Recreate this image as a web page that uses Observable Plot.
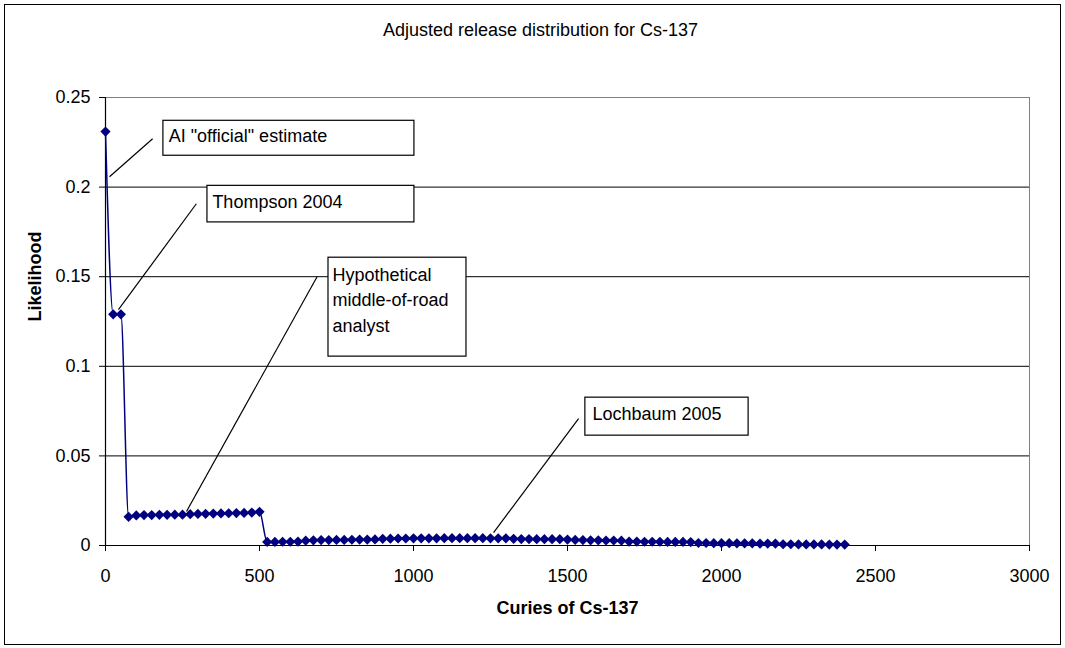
<!DOCTYPE html>
<html>
<head>
<meta charset="utf-8">
<script src="https://cdn.jsdelivr.net/npm/d3@7"></script>
<script src="https://cdn.jsdelivr.net/npm/@observablehq/plot@0.6"></script>
<style>
  html, body { margin: 0; padding: 0; background: #fff; }
  #wrap { position: relative; width: 1065px; height: 648px; overflow: hidden; }
  #border { position: absolute; left: 4px; top: 4px; width: 1055px; height: 639px; border: 1.5px solid #000; pointer-events: none; }
  svg { display: block; }
</style>
</head>
<body>
<div id="wrap"><div id="border"></div></div>
<script>
// ---- data ----
const curies = [
  0,25,50,75,100,125,150,175,200,225,
  250,275,300,325,350,375,400,425,450,475,
  500,525,550,575,600,625,650,675,700,725,
  750,775,800,825,850,875,900,925,950,975,
  1000,1025,1050,1075,1100,1125,1150,1175,1200,1225,
  1250,1275,1300,1325,1350,1375,1400,1425,1450,1475,
  1500,1525,1550,1575,1600,1625,1650,1675,1700,1725,
  1750,1775,1800,1825,1850,1875,1900,1925,1950,1975,
  2000,2025,2050,2075,2100,2125,2150,2175,2200,2225,
  2250,2275,2300,2325,2350,2375,2400
];
const likelihood = [
  0.231,0.129,0.129,0.0160,0.0168,0.0170,0.0170,0.0171,0.0171,0.0172,
  0.0172,0.0175,0.0176,0.0177,0.0178,0.0179,0.0180,0.0181,0.0182,0.0184,
  0.0188,0.0020,0.0020,0.0021,0.0021,0.0022,0.0027,0.0029,0.0030,0.0030,
  0.0031,0.0031,0.0032,0.0033,0.0033,0.0034,0.0037,0.0038,0.0039,0.0039,
  0.0040,0.0040,0.0040,0.0040,0.0041,0.0041,0.0041,0.0041,0.0041,0.0041,
  0.0040,0.0040,0.0040,0.0037,0.0036,0.0036,0.0035,0.0035,0.0035,0.0035,
  0.0033,0.0031,0.0030,0.0029,0.0029,0.0028,0.0028,0.0027,0.0022,0.0022,
  0.0021,0.0021,0.0021,0.0020,0.0020,0.0020,0.0019,0.0014,0.0014,0.0013,
  0.0013,0.0013,0.0012,0.0012,0.0012,0.0011,0.0011,0.0011,0.0007,0.0007,
  0.0006,0.0006,0.0006,0.0006,0.0005,0.0005,0.0005
];
const xTicks = [0,500,1000,1500,2000,2500,3000];
const xTickLabels = ["0","500","1000","1500","2000","2500","3000"];
const yTicks = [0,0.05,0.1,0.15,0.2,0.25];
const yTickLabels = ["0","0.05","0.1","0.15","0.2","0.25"];
const gridValues = [0.05,0.1,0.15,0.2];

const titleText = "Adjusted release distribution for Cs-137";
const xLabel = "Curies of Cs-137";
const yLabel = "Likelihood";

// callout annotations (data coordinates)
const calloutLabels = ["AI \"official\" estimate", "Thompson 2004", "Hypothetical\nmiddle-of-road\nanalyst", "Lochbaum 2005"];
const boxX1 = [188, 331, 724, 1558];
const boxX2 = [1003, 1003, 1172, 2088];
const boxY1 = [0.2370, 0.2007, 0.1606, 0.0825];
const boxY2 = [0.2175, 0.1803, 0.1054, 0.0613];
const textX = [205, 347, 737, 1581];
const textY = [0.2295, 0.1929, 0.1380, 0.0747];
const leadX1 = [153, 295, 687, 1536];
const leadY1 = [0.2270, 0.1907, 0.1500, 0.0708];
const leadX2 = [13, 42, 263, 1260];
const leadY2 = [0.2058, 0.1316, 0.0190, 0.0072];

// ---- build ----
const series = curies.map((c, i) => ({c, v: likelihood[i]}));
const callouts = calloutLabels.map((t, i) => ({
  t, bx1: boxX1[i], bx2: boxX2[i], by1: boxY1[i], by2: boxY2[i],
  tx: textX[i], ty: textY[i], lx1: leadX1[i], ly1: leadY1[i], lx2: leadX2[i], ly2: leadY2[i]
}));
const navy = "#000080";
const font = "'Liberation Sans', Arial, sans-serif";

const chart = Plot.plot({
  width: 1065,
  height: 648,
  marginLeft: 105,
  marginRight: 36,
  marginTop: 97,
  marginBottom: 103,
  x: {domain: [0, 3000]},
  y: {domain: [0, 0.25]},
  style: {fontFamily: font, fontSize: "18px", color: "#000", background: "transparent", overflow: "visible"},
  marks: [
    Plot.ruleY(gridValues, {stroke: "#000", strokeWidth: 1}),
    Plot.frame({stroke: "#808080", strokeWidth: 1}),
    Plot.ruleX([0], {stroke: "#000", strokeWidth: 1.2}),
    Plot.ruleY([0], {stroke: "#000", strokeWidth: 1.2}),
    Plot.axisY({ticks: yTicks, tickFormat: (d) => yTickLabels[yTicks.indexOf(d)], tickSize: 6, tickPadding: 9, label: null, stroke: "#000", fontSize: 18}),
    Plot.axisX({ticks: xTicks, tickFormat: (d) => xTickLabels[xTicks.indexOf(d)], tickSize: 6, tickPadding: 18, label: null, stroke: "#000", fontSize: 18}),
    Plot.line(series, {x: "c", y: "v", stroke: navy, strokeWidth: 1.5, curve: "monotone-x"}),
    Plot.dot(series, {x: "c", y: "v", symbol: "diamond2", r: 4.6, fill: navy, stroke: "none"}),
    Plot.link(callouts, {x1: "lx1", y1: "ly1", x2: "lx2", y2: "ly2", stroke: "#000", strokeWidth: 1.2}),
    Plot.rect(callouts, {x1: "bx1", x2: "bx2", y1: "by1", y2: "by2", fill: "#fff", stroke: "#000", strokeWidth: 1.2}),
    Plot.text(callouts, {x: "tx", y: "ty", text: "t", textAnchor: "start", lineAnchor: "middle", lineHeight: 1.42, fontSize: 18, fill: "#000"}),
    Plot.text([titleText], {frameAnchor: "top", dx: -27, dy: -67, lineAnchor: "middle", fontSize: 18, fill: "#000"}),
    Plot.text([xLabel], {frameAnchor: "bottom", dy: 63, lineAnchor: "middle", fontSize: 18, fontWeight: "bold", fill: "#000"}),
    Plot.text([yLabel], {frameAnchor: "left", dx: -70, rotate: -90, lineAnchor: "middle", fontSize: 18, fontWeight: "bold", fill: "#000"})
  ]
});
document.getElementById("wrap").prepend(chart);
</script>
</body>
</html>
